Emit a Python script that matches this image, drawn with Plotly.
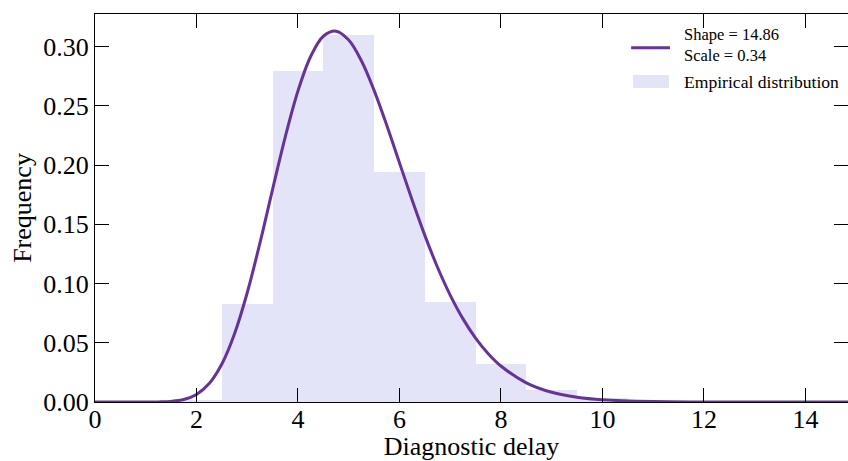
import plotly.graph_objects as go

# Empirical distribution (bin centers, frequency)
bin_centers = [2, 3, 4, 5, 6, 7, 8, 9, 10]
bin_freq = [0.002, 0.0826, 0.2795, 0.310, 0.1941, 0.0843, 0.0319, 0.0105, 0.0034]

# Fitted gamma curve
curve_x = [0, 0.5, 1.0, 1.25, 1.5, 1.75, 2.0, 2.25, 2.5, 2.75, 3.0, 3.25, 3.5, 3.75,
           4.0, 4.25, 4.5, 4.75, 5.0, 5.25, 5.5, 5.75, 6.0, 6.25, 6.5, 6.75, 7.0,
           7.25, 7.5, 7.75, 8.0, 8.5, 9.0, 9.5, 10.0, 11.0, 12.0, 13.0, 14.0, 15.0]
curve_y = [0.0, 0.0, 0.000008, 0.000085, 0.00051, 0.00208, 0.00634, 0.01555, 0.03208,
           0.05764, 0.09226, 0.1341, 0.1796, 0.2239, 0.2626, 0.2917, 0.3088, 0.3131,
           0.3056, 0.2881, 0.2631, 0.2336, 0.2020, 0.1705, 0.1407, 0.1138, 0.0903,
           0.0704, 0.0540, 0.0408, 0.0304, 0.01617, 0.00820, 0.00399, 0.00187,
           0.000369, 0.000065, 0.00001, 0.0000015, 0.0]

x_ticks = [0, 2, 4, 6, 8, 10, 12, 14]
y_ticks = [0.00, 0.05, 0.10, 0.15, 0.20, 0.25, 0.30]
y_tick_labels = ["0.00", "0.05", "0.10", "0.15", "0.20", "0.25", "0.30"]

curve_label_lines = ["Shape = 14.86", "Scale = 0.34"]
bar_label = "Empirical distribution"

BAR_COLOR = "#E4E4F8"
LINE_COLOR = "#663399"
FONT = "Liberation Serif, Times New Roman, serif"

fig = go.Figure()
fig.add_trace(go.Bar(x=bin_centers, y=bin_freq, width=1.0, marker=dict(color=BAR_COLOR, line=dict(width=0)),
                     name=bar_label, showlegend=False))
fig.add_trace(go.Scatter(x=curve_x, y=curve_y, mode="lines", line=dict(color=LINE_COLOR, width=3, shape="spline"),
                         name="<br>".join(curve_label_lines), showlegend=False))

axis_common = dict(showline=True, linecolor="black", linewidth=1.3, mirror="ticks", ticks="inside",
                   ticklen=14, tickwidth=1.3, tickcolor="black", showgrid=False, zeroline=False,
                   automargin=False, tickfont=dict(family=FONT, size=26, color="black"))

fig.update_xaxes(range=[0, 14.84], tickvals=x_ticks, ticktext=[str(v) for v in x_ticks],
                 title=dict(text="Diagnostic delay", font=dict(family=FONT, size=26, color="black"), standoff=10),
                 ticklabelstandoff=-6, **axis_common)
fig.update_yaxes(range=[0, 0.3276], tickvals=y_ticks, ticktext=y_tick_labels,
                 title=dict(text="Frequency", font=dict(family=FONT, size=26, color="black"), standoff=4),
                 ticklabelstandoff=0, **axis_common)

# manual legend
fig.add_shape(type="line", xref="paper", yref="paper", x0=0.712, x1=0.7636, y0=0.913, y1=0.913,
              line=dict(color=LINE_COLOR, width=3))
fig.add_shape(type="rect", xref="paper", yref="paper", x0=0.7145, x1=0.7623, y0=0.809, y1=0.8427,
              fillcolor=BAR_COLOR, line=dict(width=0))
fig.add_annotation(xref="paper", yref="paper", x=0.779, y=0.92, xanchor="left", yanchor="middle",
                   text="<br>".join(curve_label_lines), showarrow=False, align="left",
                   font=dict(family=FONT, size=16.5, color="black"))
fig.add_annotation(xref="paper", yref="paper", x=0.779, y=0.825, xanchor="left", yanchor="middle",
                   text=bar_label, showarrow=False, align="left",
                   font=dict(family=FONT, size=17.6, color="black"))

fig.update_layout(width=848, height=461, margin=dict(l=95, r=0, t=14, b=59),
                  plot_bgcolor="white", paper_bgcolor="white", bargap=0,
                  font=dict(family=FONT, color="black"))

fig.write_html("out.html")
